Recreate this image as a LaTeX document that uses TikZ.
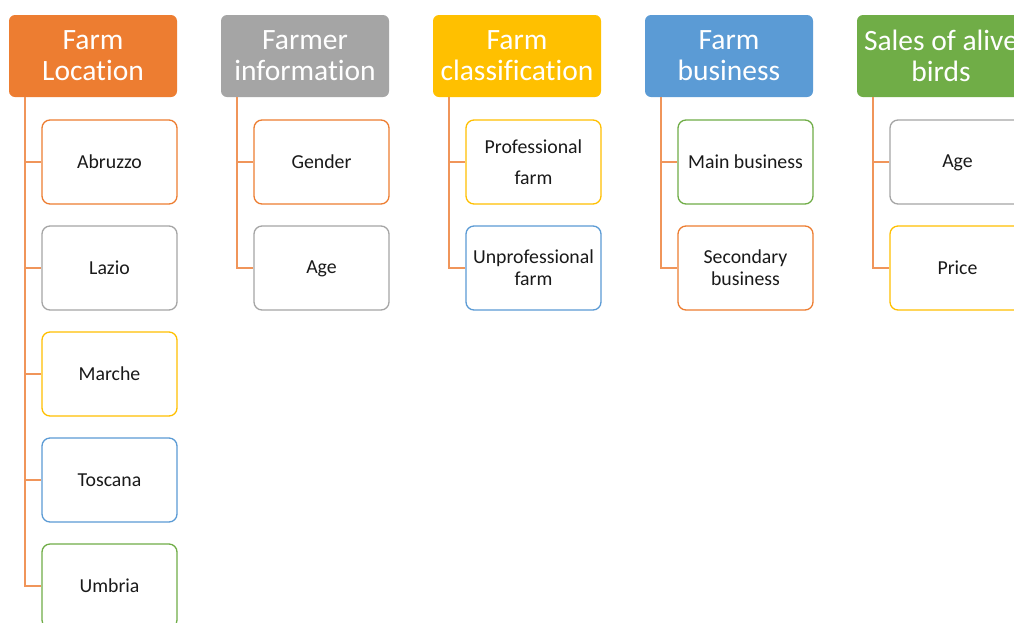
\documentclass[tikz,border=0pt]{standalone}
\usepackage{fontspec}
\setmainfont{Carlito}[Ligatures=NoCommon]
\definecolor{cOrange}{HTML}{ED7D31}
\definecolor{cGray}{HTML}{A5A5A5}
\definecolor{cGold}{HTML}{FFC000}
\definecolor{cBlue}{HTML}{5B9BD5}
\definecolor{cGreen}{HTML}{70AD47}
\definecolor{cLine}{HTML}{F0955A}
\definecolor{cText}{HTML}{1A1A1A}
\tikzset{
  header/.style={fill=#1, draw=none, rounded corners=6pt, minimum width=168pt, minimum height=82pt,
    text=white, align=center, font=\fontsize{29.5}{31}\selectfont, inner sep=0pt},
  child/.style={draw=#1, line width=1.3pt, fill=white, rounded corners=8pt, minimum width=135pt, minimum height=84pt,
    text=cText, align=center, font=\fontsize{19.8}{22}\selectfont, inner sep=0pt},
  conn/.style={draw=cLine, line width=1.5pt}
}
\begin{document}
\begin{tikzpicture}[x=1pt,y=-1pt]
\useasboundingbox (0,0) rectangle (1014,622);
\clip (0,0) rectangle (1014,622);
\fill[white] (0,0) rectangle (1014,622);
% headers
\node[header=cOrange] (h1) at (93,56) {Farm\\Location};
\node[header=cGray] (h2) at (305,56) {Farmer\\information};
\node[header=cGold] (h3) at (517,56) {Farm\\classification};
\node[header=cBlue] (h4) at (729,56) {Farm\\business};
\node[header=cGreen] (h5) at (941,56) {Sales of alive\\birds};
% column 1
\node[child=cOrange] (c11) at (109.5,162) {Abruzzo};
\node[child=cGray] (c12) at (109.5,268) {Lazio};
\node[child=cGold] (c13) at (109.5,374) {Marche};
\node[child=cBlue] (c14) at (109.5,480) {Toscana};
\node[child=cGreen] (c15) at (109.5,586) {Umbria};
% column 2
\node[child=cOrange] (c21) at (321.5,162) {Gender};
\node[child=cGray] (c22) at (321.5,268) {Age\vphantom{d}};
% column 3
\node[child=cGold, font=\fontsize{19.8}{31}\selectfont] (c31) at (533.5,162) {Professional\\farm};
\node[child=cBlue] (c32) at (533.5,268) {Unprofessional\\farm};
% column 4
\node[child=cGreen] (c41) at (745.5,162) {Main business};
\node[child=cOrange] (c42) at (745.5,268) {Secondary\\business};
% column 5
\node[child=cGray] (c51) at (957.5,162) {Age\vphantom{d}};
\node[child=cGold] (c52) at (957.5,268) {Price};
% connectors
\foreach \c in {c11,c12,c13,c14,c15}{\draw[conn] ([xshift=16pt]h1.south west) |- (\c.west);}
\foreach \c in {c21,c22}{\draw[conn] ([xshift=16pt]h2.south west) |- (\c.west);}
\foreach \c in {c31,c32}{\draw[conn] ([xshift=16pt]h3.south west) |- (\c.west);}
\foreach \c in {c41,c42}{\draw[conn] ([xshift=16pt]h4.south west) |- (\c.west);}
\foreach \c in {c51,c52}{\draw[conn] ([xshift=16pt]h5.south west) |- (\c.west);}
\end{tikzpicture}
\end{document}
